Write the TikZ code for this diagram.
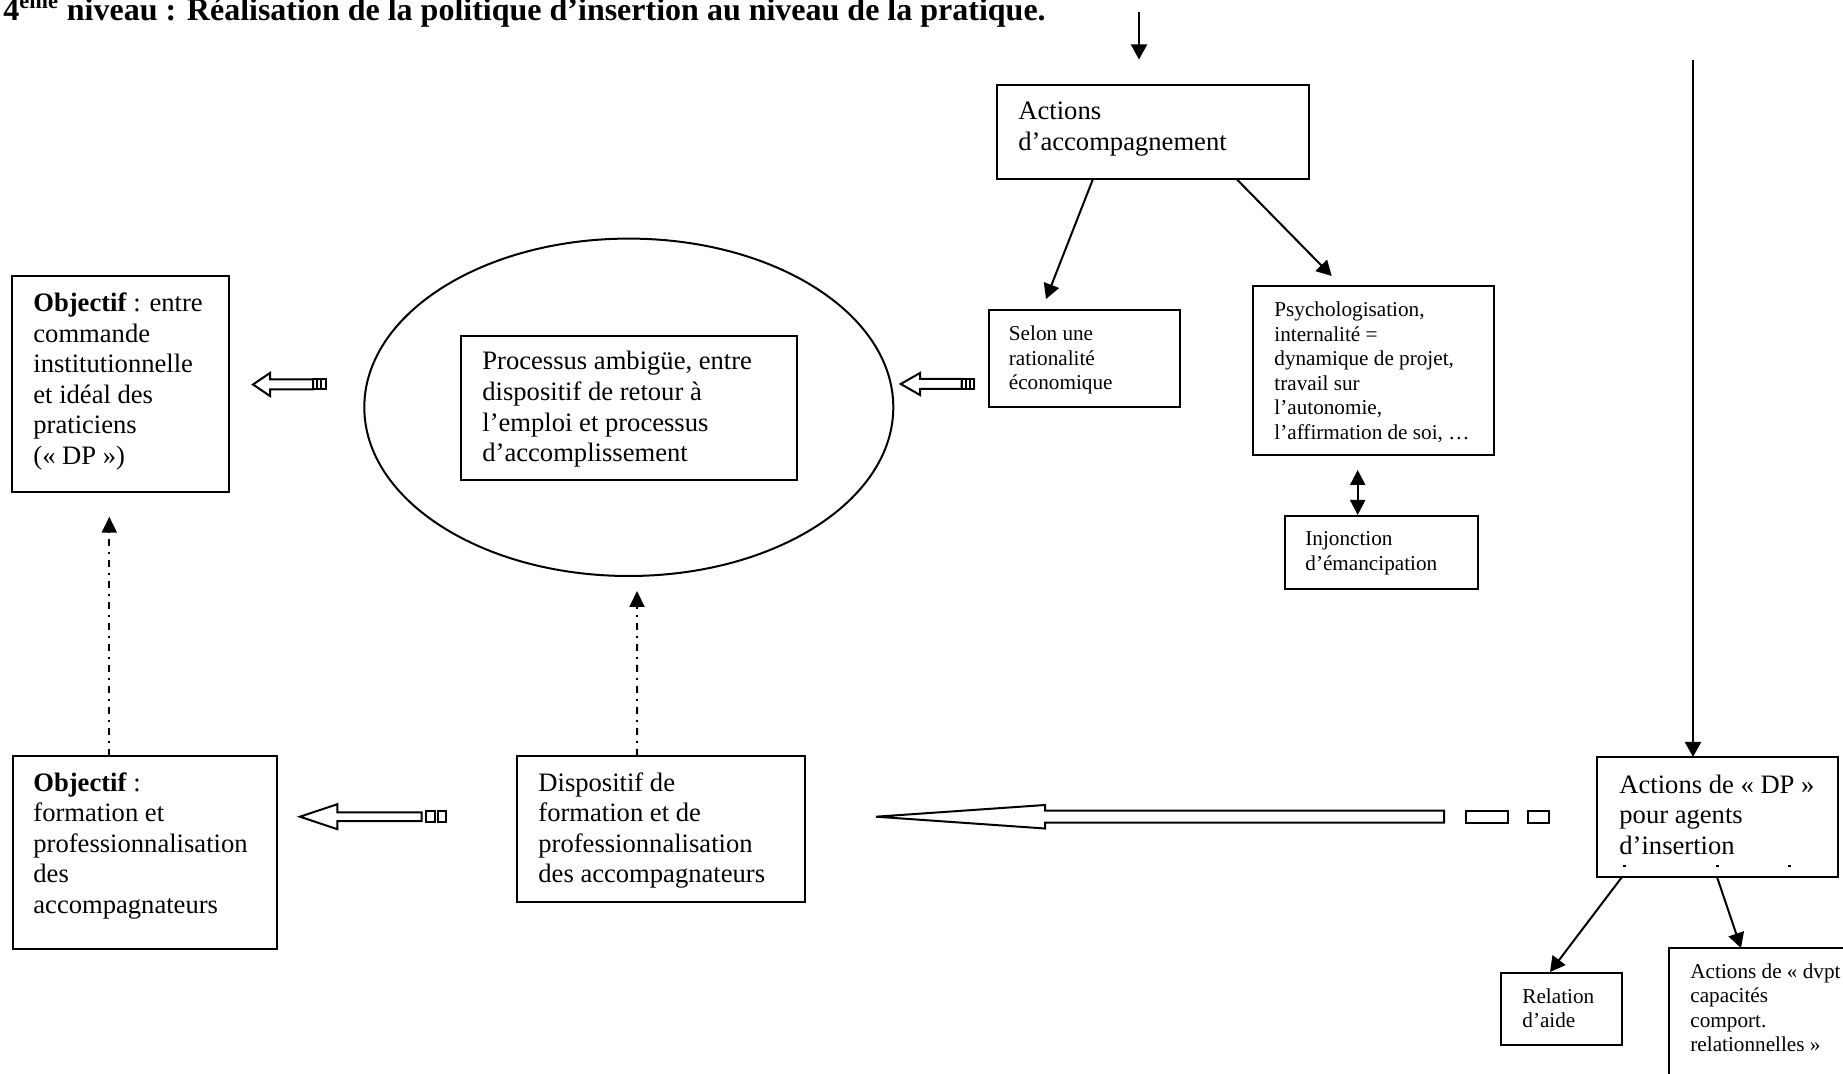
\documentclass[tikz,border=0pt]{standalone}
\usepackage{fontspec}
\setmainfont{Liberation Serif}
\usetikzlibrary{arrows.meta,calc,shapes.geometric,fit}
\newcommand{\bigtxt}{\fontsize{13.3}{15.3}\selectfont}
\newcommand{\smalltxt}{\fontsize{10.6}{12.25}\selectfont}
\newcommand{\headtxt}{\fontsize{16}{18}\selectfont}

\begin{document}
\begin{tikzpicture}[x=0.5pt,y=-0.5pt,
  box/.style={draw,line width=1pt,inner sep=0pt,outer sep=0pt},
  % labels are placed by the baseline of their last line
  lbl/.style={anchor=base west,align=left,inner sep=0pt,font=\bigtxt},
  slbl/.style={anchor=base west,align=left,inner sep=0pt,font=\smalltxt},
  conn/.style={line width=1pt,-{Triangle[width=8pt,length=7.5pt]}},
  both/.style={line width=1pt,{Triangle[width=7.5pt,length=7.5pt]}-{Triangle[width=7.5pt,length=7.5pt]}},
  dashdot/.style={line width=1pt,dash pattern=on 3.5pt off 3pt on 1pt off 3pt,-{Triangle[width=7.5pt,length=8pt]}},
  hollow/.style={draw,line width=1pt,fill=white,line join=miter}
]
\useasboundingbox (0,0) rectangle (1843,1074);
\clip (0,0) rectangle (1843,1074);

% heading
\node[anchor=base west,inner sep=0pt,font=\headtxt\bfseries] (title) at (3,21)
  {4\textsuperscript{ème} niveau : Réalisation de la politique d’insertion au niveau de la pratique.};

% boxes
\node[box,fit={(997,85) (1309,179)}] (acc) {};
\node[box,fit={(988.5,310) (1180,407)}] (selon) {};
\node[box,fit={(1253,286) (1494,455)}] (psy) {};
\node[box,fit={(1285,516) (1477.5,589)}] (inj) {};
\node[draw,line width=1pt,ellipse,inner sep=0pt,minimum width=264.5pt,minimum height=168.7pt] (ell) at (628.8,407.3) {};
\node[box,fit={(461,336) (797,480)}] (proc) {};
\node[box,fit={(12,276) (229,492.5)}] (obj1) {};
\node[box,fit={(13,756) (277.4,948.6)}] (obj2) {};
\node[box,fit={(517,756) (805,901.5)}] (disp) {};
\node[box,fit={(1597,757) (1838,877)}] (dp) {};
\node[box,fit={(1501,973) (1622,1045)}] (rel) {};
\node[box,fit={(1669,948) (1900,1110)}] (dvpt) {};

% texts
\node[lbl] (acc-l) at (1018,150.6) {Actions\\d’accompagnement};
\node[slbl] (selon-l) at (1008.5,390) {Selon une\\rationalité\\économique};
\node[slbl] (psy-l) at (1274,439.5) {Psychologisation,\\internalité =\\dynamique de projet,\\travail sur\\l’autonomie,\\l’affirmation de soi, …};
\node[slbl] (inj-l) at (1305,570.5) {Injonction\\d’émancipation};
\node[lbl] (proc-l) at (482,461.8) {Processus ambigüe, entre\\dispositif de retour à\\l’emploi et processus\\d’accomplissement};
\node[lbl] (obj1-l) at (33,464.5) {\textbf{Objectif} : entre\\commande\\institutionnelle\\et idéal des\\praticiens\\(«~DP~»)};
\node[lbl] (obj2-l) at (33,913.4) {\textbf{Objectif} :\\formation et\\professionnalisation\\des\\accompagnateurs};
\node[lbl] (disp-l) at (538,882.8) {Dispositif de\\formation et de\\professionnalisation\\des accompagnateurs};
\node[lbl] (dp-l) at (1619,854.2) {Actions de «~DP~»\\pour agents\\d’insertion};
\node[slbl] (rel-l) at (1522,1027.5) {Relation\\d’aide};
\node[slbl] (dvpt-l) at (1690,1051.5) {Actions de «~dvpt\\capacités\\comport.\\relationnelles~»};

% clipped fourth line of the DP box
\draw[line width=0.7pt] (1622.5,866) -- (1625.5,866) (1716,866) -- (1718.5,866) (1788,866) -- (1790.5,866);

% incoming arrows
\coordinate (topin) at (1139,12);
\coordinate (topend) at (1139,59.5);
\draw[conn] (topin) -- (topend);
\coordinate (rightin) at (1693,60);
\draw[conn] (rightin) -- (rightin |- dp.north);

% solid connectors
\draw[conn] ($(acc.south west)+(96,0)$) -- ($(selon.north west)+(57.5,-11)$);
\draw[conn] ($(acc.south west)+(239.5,0)$) -- ($(psy.north west)+(78.7,-10)$);
\draw[both] ($(psy.south west)+(104.7,15)$) -- ($(inj.north west)+(72.7,-1)$);
\draw[conn] ($(dp.south west)+(25,0)$) -- ($(rel.north west)+(49,-1)$);
\draw[conn] ($(dp.south west)+(120,0)$) -- ($(dvpt.north west)+(72,0)$);

% dash-dotted connectors
\draw[dashdot] ($(obj2.north west)+(96.3,0)$) -- ($(obj1.south west)+(97.3,24.2)$);
\draw[dashdot] ($(disp.north west)+(120,0)$) -- ($(ell.south)+(8.2,14)$);

% hollow block arrows
\path[hollow] (253,384.5) -- (270,373) -- (270,379.5) -- (313,379.5) -- (313,389.5) -- (270,389.5) -- (270,396) -- cycle;
\draw[line width=1pt] (313,379.5) rectangle (325.5,389.5) (317.2,379.5) -- (317.2,389.5) (321.4,379.5) -- (321.4,389.5);

\path[hollow] (900.7,384) -- (920,373) -- (920,379) -- (961.7,379) -- (961.7,389) -- (920,389) -- (920,395) -- cycle;
\draw[line width=1pt] (961.7,379) rectangle (974,389) (965.8,379) -- (965.8,389) (969.9,379) -- (969.9,389);

\path[hollow] (300,816.7) -- (337.3,804.2) -- (337.3,812.3) -- (421.7,812.3) -- (421.7,821) -- (337.3,821) -- (337.3,829.2) -- cycle;
\draw[line width=1pt] (425.7,811.3) rectangle (435,822.3) (438.3,811.3) rectangle (445.7,822.3);

\path[hollow] (876,816.7) -- (1045,805) -- (1045,810.7) -- (1444,810.7) -- (1444,822.7) -- (1045,822.7) -- (1045,828.5) -- cycle;
\draw[line width=1pt] (1465.5,810.9) rectangle (1508,822.5) (1528,810.9) rectangle (1549,822.5);
\end{tikzpicture}
\end{document}
